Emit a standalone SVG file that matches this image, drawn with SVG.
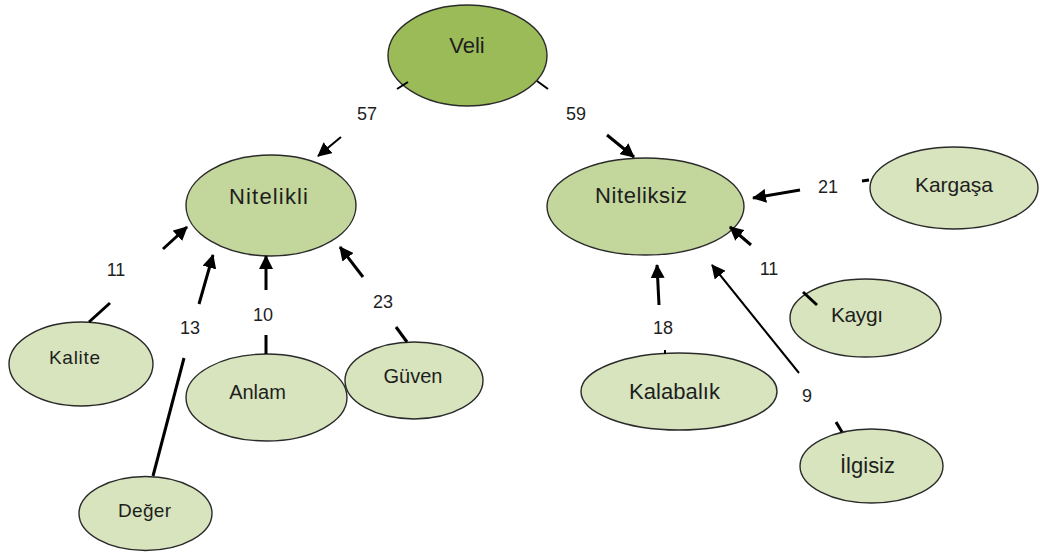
<svg xmlns="http://www.w3.org/2000/svg" width="1040" height="556" viewBox="0 0 1040 556">
<style>
  .n ellipse { stroke: #2a2a2a; stroke-width: 1.4; }
  .root ellipse { fill: #9bbb59; }
  .mid ellipse { fill: #c3d69b; }
  .leaf ellipse { fill: #d7e4bd; }
  .n text { font-family: "Liberation Sans", Arial, sans-serif; fill: #1e1e1e; text-anchor: middle; }
  .lbl { font-family: "Liberation Sans", Arial, sans-serif; font-size: 18px; fill: #1e1e1e; text-anchor: middle; }
  .c line { stroke: #000; stroke-linecap: butt; }
  .a { stroke-width: 3; marker-end: url(#ah); }
  .a2 { stroke-width: 2; marker-end: url(#ah); }
  .s { stroke-width: 3; }
  .s2 { stroke-width: 2; }
</style>
<defs>
  <marker id="ah" markerUnits="userSpaceOnUse" markerWidth="14" markerHeight="14" refX="13" refY="7" orient="auto">
    <path d="M0,0 L14,7 L0,14 z" fill="#000"/>
  </marker>
</defs>
<rect width="1040" height="556" fill="#fff"/>

<g id="veli" class="n root">
  <ellipse cx="467.5" cy="55.5" rx="79.5" ry="50.5"/>
  <text x="467" y="53" font-size="22">Veli</text>
</g>
<g id="nitelikli" class="n mid">
  <ellipse cx="271" cy="205.5" rx="85" ry="50.5"/>
  <text x="268.5" y="204" font-size="22" textLength="79">Nitelikli</text>
</g>
<g id="niteliksiz" class="n mid">
  <ellipse cx="645.5" cy="206.5" rx="98.5" ry="48.5"/>
  <text x="641" y="203" font-size="22" textLength="92">Niteliksiz</text>
</g>
<g id="kalite" class="n leaf">
  <ellipse cx="81" cy="364" rx="72" ry="42"/>
  <text x="74.5" y="364" font-size="19" textLength="51">Kalite</text>
</g>
<g id="deger" class="n leaf">
  <ellipse cx="145.5" cy="513.5" rx="66.5" ry="37"/>
  <text x="144.5" y="517" font-size="19" textLength="53">Değer</text>
</g>
<g id="anlam" class="n leaf">
  <ellipse cx="266.5" cy="397.5" rx="80.5" ry="43.5"/>
  <text x="257.5" y="399" font-size="20">Anlam</text>
</g>
<g id="guven" class="n leaf">
  <ellipse cx="414" cy="380.5" rx="69" ry="38.5"/>
  <text x="413" y="383" font-size="20">Güven</text>
</g>
<g id="kargasa" class="n leaf">
  <ellipse cx="954" cy="188" rx="84" ry="41"/>
  <text x="954" y="192" font-size="21" textLength="78">Kargaşa</text>
</g>
<g id="kaygi" class="n leaf">
  <ellipse cx="865.5" cy="318" rx="75.5" ry="39"/>
  <text x="857" y="322" font-size="21" textLength="52">Kaygı</text>
</g>
<g id="kalabalik" class="n leaf">
  <ellipse cx="679" cy="391.5" rx="98" ry="38.5"/>
  <text x="674.5" y="399" font-size="22" textLength="91">Kalabalık</text>
</g>
<g id="ilgisiz" class="n leaf">
  <ellipse cx="871.5" cy="466" rx="71.5" ry="37"/>
  <text x="867.5" y="473" font-size="22" textLength="55">İlgisiz</text>
</g>

<g id="connectors" class="c">
  <!-- Veli -> Nitelikli (57) -->
  <line class="s2" x1="397" y1="89" x2="408" y2="82"/>
  <line class="a2" x1="341" y1="137" x2="318" y2="156"/>
  <!-- Veli -> Niteliksiz (59) -->
  <line class="s2" x1="537" y1="81" x2="548" y2="89"/>
  <line class="a" x1="607" y1="135" x2="634" y2="157"/>
  <!-- Kalite -> Nitelikli (11) -->
  <line class="s" x1="89" y1="322" x2="110" y2="303"/>
  <line class="a" x1="163" y1="249" x2="187" y2="227"/>
  <!-- Değer -> Nitelikli (13) -->
  <line class="s" x1="153" y1="476" x2="184" y2="358"/>
  <line class="a" x1="199" y1="304" x2="213" y2="255"/>
  <!-- Anlam -> Nitelikli (10) -->
  <line class="s" x1="266" y1="354" x2="266" y2="335"/>
  <line class="a" x1="266" y1="290" x2="266" y2="256"/>
  <!-- Güven -> Nitelikli (23) -->
  <line class="s" x1="396" y1="327" x2="407" y2="342"/>
  <line class="a" x1="363" y1="277" x2="340" y2="247"/>
  <!-- Kargaşa -> Niteliksiz (21) -->
  <line class="s" x1="862" y1="181" x2="869" y2="180"/>
  <line class="a" x1="800" y1="190" x2="753" y2="198"/>
  <!-- Kaygı -> Niteliksiz (11) -->
  <line class="s" x1="803" y1="292" x2="817" y2="305"/>
  <line class="a" x1="751" y1="245" x2="730" y2="227"/>
  <!-- Kalabalık -> Niteliksiz (18) -->
  <line class="s2" x1="665" y1="350" x2="665" y2="354"/>
  <line class="a" x1="659" y1="305" x2="657" y2="265"/>
  <!-- İlgisiz -> Niteliksiz (9) -->
  <line class="s" x1="836" y1="422" x2="842" y2="432"/>
  <line class="a2" x1="799" y1="373" x2="712" y2="265"/>
</g>

<g id="labels">
  <text class="lbl" x="367" y="120">57</text>
  <text class="lbl" x="576" y="120">59</text>
  <text class="lbl" x="116" y="276">11</text>
  <text class="lbl" x="190" y="334">13</text>
  <text class="lbl" x="263" y="321">10</text>
  <text class="lbl" x="383" y="308">23</text>
  <text class="lbl" x="828" y="193">21</text>
  <text class="lbl" x="769" y="275">11</text>
  <text class="lbl" x="663" y="334">18</text>
  <text class="lbl" x="807" y="402">9</text>
</g>
</svg>
